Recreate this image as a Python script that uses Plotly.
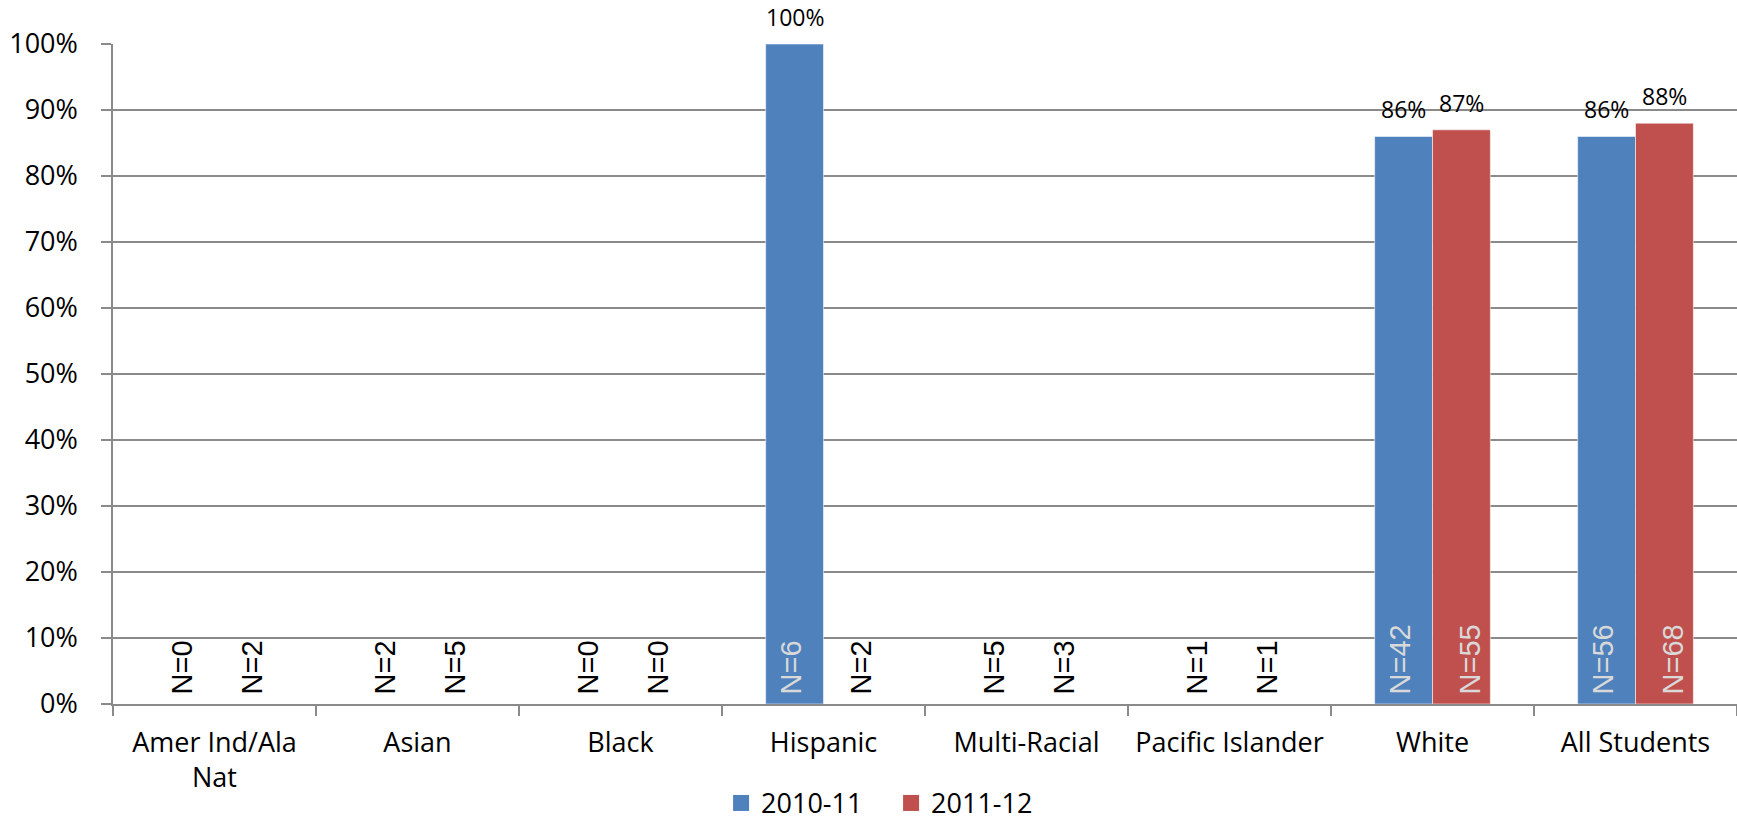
import plotly.graph_objects as go

categories = ["Amer Ind/Ala<br>Nat", "Asian", "Black", "Hispanic", "Multi-Racial",
              "Pacific Islander", "White", "All Students"]
series_names = ["2010-11", "2011-12"]
pct_2010 = [None, None, None, 100, None, None, 86, 86]
pct_2011 = [None, None, None, None, None, None, 87, 88]
n_2010 = [0, 2, 0, 6, 5, 1, 42, 56]
n_2011 = [2, 5, 0, 2, 3, 1, 55, 68]
y_ticks = [0, 10, 20, 30, 40, 50, 60, 70, 80, 90, 100]
y_ticklabels = [f"{v}%" for v in y_ticks]

colors = ["#4f81bd", "#c0504d"]
FONT = "Open Sans"

fig = go.Figure()
for name, vals, col in zip(series_names, [pct_2010, pct_2011], colors):
    fig.add_trace(go.Bar(
        x=categories, y=vals, name=name, showlegend=False, legendgroup=name,
        marker=dict(color=col, line=dict(color="rgba(255,255,255,0.55)", width=1)),
    ))
# legend entries with square swatches
for name, col in zip(series_names, colors):
    fig.add_trace(go.Scatter(
        x=[None], y=[None], mode="markers", name=name, legendgroup=name,
        marker=dict(symbol="square", size=18, color=col),
    ))

annotations = []
for vals, ns, sgn, nshift in [(pct_2010, n_2010, -1, -33), (pct_2011, n_2011, 1, 37)]:
    for cat, v, n in zip(categories, vals, ns):
        inside = v is not None and v > 0
        annotations.append(dict(
            x=cat, y=0, xref="x", yref="y", text=f"N={n}", showarrow=False,
            textangle=-90, xanchor="center", yanchor="bottom", xshift=nshift, yshift=7,
            font=dict(family="Arial, Liberation Sans", size=29, color="#d9d9d9" if inside else "#000000"),
        ))
        if v is not None:
            annotations.append(dict(
                x=cat, y=v, xref="x", yref="y", text=f"{v}%", showarrow=False,
                xanchor="center", yanchor="bottom", xshift=sgn * 29, yshift=9,
                font=dict(family=FONT, size=23, color="#000000"),
            ))

fig.update_layout(
    width=1737, height=824,
    margin=dict(l=113, r=0, t=44, b=120),
    paper_bgcolor="white", plot_bgcolor="white",
    barmode="group", bargap=0.43, bargroupgap=0,
    font=dict(family=FONT, size=27, color="#000000"),
    showlegend=True,
    legend=dict(orientation="h", x=0.513, xanchor="center", xref="container",
                y=0.025, yanchor="middle", yref="container",
                font=dict(family=FONT, size=27), itemwidth=30,
                entrywidth=125, entrywidthmode="pixels"),
    annotations=annotations,
    xaxis=dict(
        showline=True, linecolor="#8a8a8a", linewidth=1.5,
        ticks="outside", tickson="boundaries", ticklen=10, tickcolor="#8a8a8a", tickwidth=1.5,
        tickfont=dict(family=FONT, size=27), showgrid=False, ticklabelstandoff=14,
        automargin=False,
    ),
    yaxis=dict(
        range=[0, 100], tickvals=y_ticks, ticktext=y_ticklabels,
        showline=True, linecolor="#8a8a8a", linewidth=1.5,
        ticks="outside", ticklen=10, tickcolor="#8a8a8a", tickwidth=1.5,
        showgrid=True, gridcolor="#8a8a8a", gridwidth=1.5, zeroline=False,
        tickfont=dict(family=FONT, size=27), ticklabelstandoff=18, automargin=False,
    ),
)

fig.write_html("out.html", config={"displayModeBar": False},
               post_script="document.body.style.margin='0';document.body.style.overflow='hidden';")
